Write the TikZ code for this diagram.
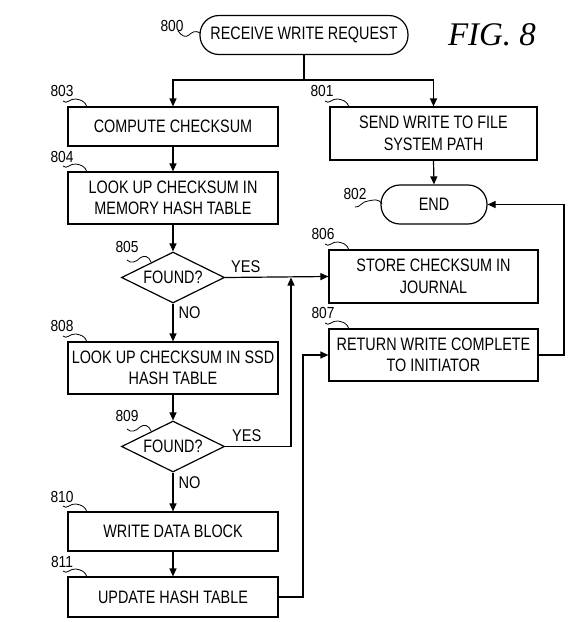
\documentclass[tikz,border=0pt]{standalone}
\usepackage{fontspec}
\setmainfont{Liberation Sans}
\newfontfamily\boxfont[FakeStretch=0.8]{Liberation Sans}
\newfontfamily\numfont[FakeStretch=0.86]{Liberation Sans}
\newfontfamily\figfont{Liberation Serif}
\usetikzlibrary{shapes.geometric,arrows.meta}
\begin{document}
\begin{tikzpicture}[x=1pt,y=-1pt,
  every node/.style={inner sep=0pt},
  txt/.style={font=\boxfont\fontsize{18}{21.5}\selectfont},
  box/.style={draw, line width=1.2pt, align=center, txt},
  term/.style={draw, line width=1.2pt, rounded corners=19pt, align=center, txt, minimum height=39pt},
  dec/.style={draw, line width=1.2pt, diamond, aspect=2, minimum width=103pt, minimum height=51pt, txt},
  num/.style={font=\numfont\fontsize{16}{18}\selectfont},
  lbl/.style={font=\numfont\fontsize{17}{19}\selectfont},
  conn/.style={line width=1.2pt},
  arr/.style={conn, -{Triangle[length=8pt,width=7pt]}},
  squig/.pic={\draw[line width=0.8pt] (0,0) .. controls (4,4) and (7,-3) .. (13,-2) .. controls (18,-1) and (22,0) .. (24,6);}
]
\useasboundingbox (0,0) rectangle (576,622);

% nodes
\node[term, minimum width=208pt] (start) at (304,35) {RECEIVE WRITE REQUEST};
\node[box, minimum width=210pt, minimum height=39pt] (n803) at (173,126.5) {COMPUTE CHECKSUM};
\node[box, minimum width=207pt, minimum height=53pt] (n801) at (433.5,133.5) {SEND WRITE TO FILE\\SYSTEM PATH};
\node[box, minimum width=210pt, minimum height=52pt] (n804) at (173,198) {LOOK UP CHECKSUM IN\\MEMORY HASH TABLE};
\node[term, minimum width=106pt] (end) at (434,204.5) {END};
\node[dec] (n805) at (173,277.5) {FOUND?};
\node[box, minimum width=209pt, minimum height=53pt] (n806) at (433.5,276.5) {STORE CHECKSUM IN\\JOURNAL};
\node[box, minimum width=209pt, minimum height=52pt] (n807) at (433.5,355) {RETURN WRITE COMPLETE\\TO INITIATOR};
\node[box, minimum width=210pt, minimum height=52pt] (n808) at (173,368) {LOOK UP CHECKSUM IN SSD\\HASH TABLE};
\node[dec] (n809) at (173,446.5) {FOUND?};
\node[box, minimum width=210pt, minimum height=39pt] (n810) at (173,531.5) {WRITE DATA BLOCK};
\node[box, minimum width=210pt, minimum height=40pt] (n811) at (173,597) {UPDATE HASH TABLE};

\node[font=\figfont\itshape\fontsize{33}{36}\selectfont] (fig) at (492,35) {FIG. 8};

% helper coordinates
\coordinate (j) at (304,80);
\coordinate (m1) at (291,277.5);
\coordinate (m2) at (303,355);
\coordinate (m3) at (564,204.5);

% connectors
\draw[conn] (start.south) -- (j);
\draw[arr] (j) -| (n803.north);
\draw[arr] (j) -| (n801.north);
\draw[arr] (n801.south) -- (end.north);
\draw[arr] (n803.south) -- (n804.north);
\draw[arr] (n804.south) -- (n805.north);
\draw[arr] (n805.south) -- node[lbl, right=5pt, pos=0.25] {NO} (n808.north);
\draw[arr] (n808.south) -- (n809.north);
\draw[arr] (n809.south) -- node[lbl, right=5pt, pos=0.25] {NO} (n810.north);
\draw[arr] (n810.south) -- (n811.north);
\draw[arr] (n805.east) -- node[lbl, above=4pt, pos=0.2] {YES} (n806.west);
\draw[arr] (n809.east) -- node[lbl, above=4pt, pos=0.33] {YES} (n809.east -| m1) -- (m1);
\draw[arr] (n811.east) -| (m2) -- (n807.west);
\draw[arr] (n807.east) -| (m3) -- (end.east);

% reference numerals
\node[num] (r800) at (172,26) {800};
\draw[line width=0.8pt] (178,31) .. controls (182,36) and (185,38) .. (189,35) .. controls (192,32) and (196,30) .. (200,33);
\node[num] (r801) at (322,91) {801};
\pic at (325,101) {squig};
\node[num] (r802) at (355,194) {802};
\draw[line width=0.8pt] (355,207) .. controls (360,208) and (362,201) .. (368,201) .. controls (374,200) and (378,198) .. (382,204);
\node[num] (r803) at (62,91) {803};
\pic at (63,101) {squig};
\node[num] (r804) at (62,157) {804};
\pic at (63,166) {squig};
\node[num] (r805) at (127,247) {805};
\draw[line width=0.8pt] (127,260) .. controls (131,264) and (136,262) .. (140,258) .. controls (144,255) and (149,256) .. (151,262);
\node[num] (r806) at (323,234) {806};
\pic at (325,244) {squig};
\node[num] (r807) at (323,313) {807};
\pic at (325,323) {squig};
\node[num] (r808) at (62,326) {808};
\pic at (63,336) {squig};
\node[num] (r809) at (127,416) {809};
\draw[line width=0.8pt] (127,429) .. controls (131,433) and (136,431) .. (140,427) .. controls (144,424) and (149,425) .. (151,431);
\node[num] (r810) at (62,497) {810};
\pic at (63,506) {squig};
\node[num] (r811) at (62,562) {811};
\pic at (63,571) {squig};
\end{tikzpicture}
\end{document}
